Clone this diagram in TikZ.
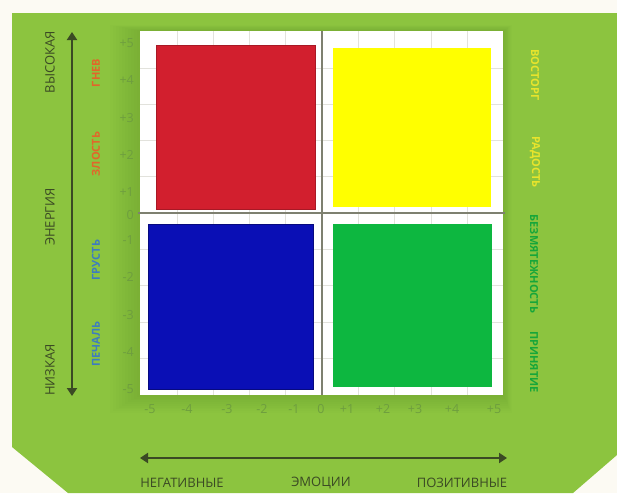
\documentclass[tikz,border=0pt]{standalone}
\usepackage{fontspec}
\setmainfont{Open Sans}
\usepackage{tikz}
\usetikzlibrary{positioning,calc,arrows.meta}

\definecolor{paper}{HTML}{FCFAF3}
\definecolor{leaf}{HTML}{8CC43F}
\definecolor{olive}{HTML}{3B4A24}
\definecolor{ticktxt}{HTML}{6E9E3F}
\definecolor{gridgray}{HTML}{E2E2DC}
\definecolor{axisgray}{HTML}{7E8070}
\definecolor{angerred}{HTML}{D21F2E}
\definecolor{joyyellow}{HTML}{FFFF00}
\definecolor{sadblue}{HTML}{0A0FB5}
\definecolor{calmgreen}{HTML}{0DB740}
\definecolor{lblorange}{HTML}{E2662A}
\definecolor{lblblue}{HTML}{3D7CC0}
\definecolor{lblyellow}{HTML}{E8E42C}
\definecolor{lblgreen}{HTML}{16A63A}

\tikzset{
  axislbl/.style={font=\fontsize{13}{13}\selectfont,text=olive,inner sep=0pt},
  ticklbl/.style={font=\fontsize{12.5}{12.5}\selectfont,text=ticktxt,inner sep=0pt},
  moodlbl/.style={font=\fontsize{11}{11}\selectfont\bfseries,inner sep=0pt},
  quad/.style={line width=0.8pt},
}

\begin{document}
\begin{tikzpicture}[x=1pt,y=-1pt,>={Triangle[width=10pt,length=8pt]}]
% canvas in pixel units, y grows downwards
\useasboundingbox (0,0) rectangle (617,493);
\fill[paper] (0,0) rectangle (617,493);
\fill[leaf] (12,13) -- (617,13) -- (617,455) -- (573,493) -- (68,493) -- (12,447) -- cycle;
% soft shadow round the chart
\foreach \s in {3,6,...,30} {\fill[black,opacity=0.009] (140-\s,31-0.2*\s) rectangle (503+0.3*\s,395+0.6*\s);}
\fill[white] (140,31) rectangle (503,395);
\foreach \k in {-4,...,4} {
  \draw[gridgray,line width=0.6pt] (322+36.3*\k,31) -- (322+36.3*\k,395);
  \draw[gridgray,line width=0.6pt] (140,213+36.3*\k) -- (503,213+36.3*\k);}
% quadrants
\fill[quad,angerred,draw=angerred!80!black] (156,45) rectangle (315,209);
\fill[quad,joyyellow] (333,48) rectangle (491,207);
\fill[quad,sadblue,draw=sadblue!70!black] (148,224) rectangle (313,389);
\fill[quad,calmgreen] (333,224) rectangle (492,387);
\draw[axisgray,line width=1.2pt] (322,31) -- (322,395);
\draw[axisgray,line width=1.2pt] (138,213) -- (505,213);
% tick labels
\foreach \v/\yy [count=\i] in {+5/43,+4/80,+3/118,+2/155,+1/192,0/215,-1/240,-2/277,-3/315,-4/352,-5/389}
  {\node[ticklbl,anchor=east] (ty\i) at (134,\yy) {\v};}
\foreach \v/\xx [count=\i] in {-5/150,-4/187,-3/227,-2/262,-1/294,0/321,+1/347,+2/383,+3/415,+4/452,+5/494}
  {\node[ticklbl] (tx\i) at (\xx,409) {\v};}
% energy axis
\coordinate (ehigh) at (72,32);
\coordinate (elow) at (72,396);
\draw[<->,olive,line width=2pt] (elow) -- (ehigh);
\node[axislbl,rotate=90] (high) at (50,62) {ВЫСОКАЯ};
\node[axislbl,rotate=90] (energy) at (50,217) {ЭНЕРГИЯ};
\node[axislbl,rotate=90] (low) at (50,370) {НИЗКАЯ};
% emotion axis
\coordinate (eneg) at (140,458);
\coordinate (epos) at (507,458);
\draw[<->,olive,line width=2pt] (eneg) -- (epos);
\node[axislbl] (neg) at (182,483) {НЕГАТИВНЫЕ};
\node[axislbl] (emo) at (321,483) {ЭМОЦИИ};
\node[axislbl] (pos) at (462,483) {ПОЗИТИВНЫЕ};
% mood words
\node[moodlbl,rotate=90,text=lblorange] (rage) at (96,73) {ГНЕВ};
\node[moodlbl,rotate=90,text=lblorange] (anger) at (96,154) {ЗЛОСТЬ};
\node[moodlbl,rotate=90,text=lblblue] (sad) at (96,260) {ГРУСТЬ};
\node[moodlbl,rotate=90,text=lblblue] (grief) at (96,344) {ПЕЧАЛЬ};
\node[moodlbl,rotate=-90,text=lblyellow] (delight) at (535,75) {ВОСТОРГ};
\node[moodlbl,rotate=-90,text=lblyellow] (joy) at (535,162) {РАДОСТЬ};
\node[moodlbl,rotate=-90,text=lblgreen] (calm) at (534,264) {БЕЗМЯТЕЖНОСТЬ};
\node[moodlbl,rotate=-90,text=lblgreen] (accept) at (534,362) {ПРИНЯТИЕ};
\end{tikzpicture}
\end{document}
